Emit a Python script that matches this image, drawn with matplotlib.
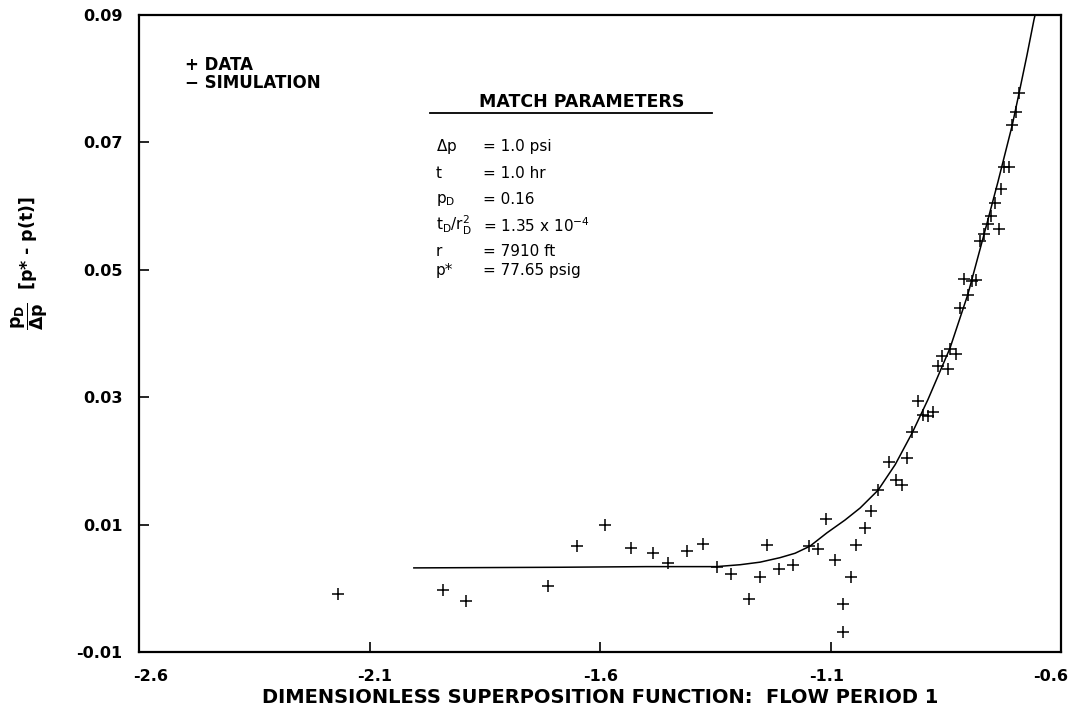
import matplotlib
matplotlib.use("Agg")
import matplotlib.pyplot as plt
from matplotlib.transforms import ScaledTranslation

plt.rcParams['font.family'] = ['DejaVu Sans']
plt.rcParams['mathtext.fontset'] = 'dejavusans'

# measured data (dimensionless superposition function vs normalized pressure)
data_x = [-2.168, -1.941, -1.891, -1.712, -1.651, -1.589, -1.534, -1.486, -1.452,
          -1.412, -1.377, -1.347, -1.316, -1.278, -1.253, -1.238, -1.211, -1.181,
          -1.147, -1.128, -1.111, -1.090, -1.074, -1.073, -1.056, -1.044, -1.026,
          -1.013, -0.997, -0.973, -0.934, -0.959, -0.945, -0.923, -0.911, -0.899,
          -0.889, -0.878, -0.868, -0.846, -0.858, -0.840, -0.829, -0.819, -0.801,
          -0.811, -0.793, -0.784, -0.776, -0.767, -0.735, -0.759, -0.752, -0.744,
          -0.730, -0.723, -0.713, -0.707, -0.698, -0.692]
data_y = [-0.0009, -0.0002, -0.0020, 0.0004, 0.0067, 0.0100, 0.0063, 0.0056, 0.0040,
          0.0058, 0.0069, 0.0034, 0.0022, -0.0017, 0.0017, 0.0068, 0.0031, 0.0036,
          0.0067, 0.0061, 0.0108, 0.0045, -0.0025, -0.0069, 0.0017, 0.0068, 0.0095,
          0.0121, 0.0154, 0.0198, 0.0205, 0.0170, 0.0162, 0.0245, 0.0294, 0.0272,
          0.0271, 0.0276, 0.0349, 0.0344, 0.0365, 0.0376, 0.0367, 0.0440, 0.0461,
          0.0485, 0.0482, 0.0484, 0.0545, 0.0556, 0.0564, 0.0572, 0.0584, 0.0604,
          0.0627, 0.0661, 0.0662, 0.0727, 0.0748, 0.0777]

# simulated response
sim_x = [-2.004, -1.687, -1.500, -1.348, -1.296, -1.253, -1.210, -1.177, -1.145,
         -1.108, -1.069, -1.036, -0.997, -0.960, -0.923, -0.889, -0.841, -0.802,
         -0.767, -0.737, -0.706, -0.691, -0.674, -0.659, -0.652]
sim_y = [0.0032, 0.0033, 0.0034, 0.0034, 0.0037, 0.0041, 0.0048, 0.0055, 0.0066,
         0.0087, 0.0107, 0.0126, 0.0154, 0.0194, 0.0244, 0.0296, 0.0377, 0.0462,
         0.0556, 0.0638, 0.0727, 0.0778, 0.0837, 0.0892, 0.0914]

x_ticks = [-2.6, -2.1, -1.6, -1.1, -0.6]
y_ticks = [-0.01, 0.01, 0.03, 0.05, 0.07, 0.09]

param_names = [r'$\Delta$p', 't', r'p$_\mathregular{D}$',
               r't$_\mathregular{D}$/r$_\mathregular{D}^\mathregular{2}$', 'r', 'p*']
param_values = ['= 1.0 psi', '= 1.0 hr', '= 0.16', r'= 1.35 x 10$^\mathregular{-4}$',
                '= 7910 ft', '= 77.65 psig']

fig = plt.figure(figsize=(10.74, 7.11), dpi=100)
ax = fig.add_axes([0.1295, 0.083, 0.8585, 0.896])

ax.plot(sim_x, sim_y, '-', color='black', linewidth=1.1)
ax.plot(data_x, data_y, '+', color='black', markersize=8, markeredgewidth=1.1)

ax.set_xlim(-2.6, -0.6)
ax.set_ylim(-0.01, 0.09)
ax.set_xticks(x_ticks)
ax.set_yticks(y_ticks)
ax.set_xticklabels([f'{v:.1f}' for v in x_ticks], fontsize=11.5, fontweight='bold')
ax.set_yticklabels([f'{v:.2f}' for v in y_ticks], fontsize=11.5, fontweight='bold')
ax.tick_params(direction='in', length=7, width=1.2, pad=12)
for s in ax.spines.values():
    s.set_linewidth(1.6)

# the printed labels sit slightly inward of the end ticks
shifts = [12, 5, 1, -4, -10]
for lab, dx in zip(ax.get_xticklabels(), shifts):
    lab.set_transform(lab.get_transform() + ScaledTranslation(dx / 100, 0, fig.dpi_scale_trans))

ax.set_xlabel('DIMENSIONLESS SUPERPOSITION FUNCTION:  FLOW PERIOD 1',
              fontsize=14, fontweight='bold', labelpad=3)
fig.text(0.028, 0.63, r'$\mathbf{\dfrac{p_D}{\Delta p}}$  [p* - p(t)]', rotation=90,
         fontsize=12.5, fontweight='bold', ha='center', va='center')

# legend as text
ax.text(0.05, 0.921, '+ DATA', transform=ax.transAxes, fontsize=12,
        fontweight='bold', va='center')
ax.text(0.05, 0.893, '\u2212 SIMULATION', transform=ax.transAxes, fontsize=12,
        fontweight='bold', va='center')

# match parameters block
ax.text(0.48, 0.864, 'MATCH PARAMETERS', transform=ax.transAxes, fontsize=12.5,
        fontweight='bold', ha='center', va='center')
ax.plot([0.316, 0.621], [0.846, 0.846], transform=ax.transAxes, color='black', linewidth=1.3)
row_y = [0.793, 0.751, 0.710, 0.669, 0.628, 0.599]
for yy, name, val in zip(row_y, param_names, param_values):
    ax.text(0.322, yy, name, transform=ax.transAxes, fontsize=11, va='center')
    ax.text(0.373, yy, val, transform=ax.transAxes, fontsize=11, va='center')

fig.savefig('out.png', dpi=100)
